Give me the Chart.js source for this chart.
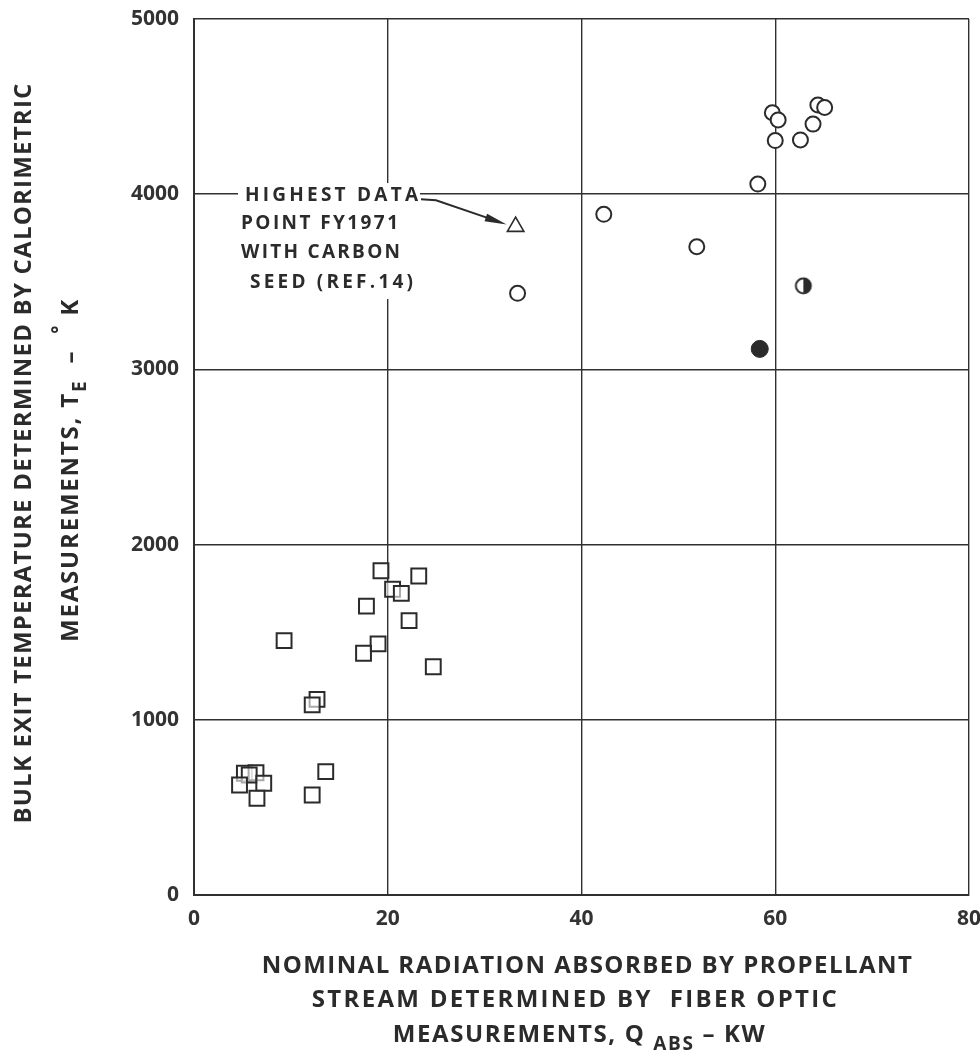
<!DOCTYPE html>
<html>
<head>
<meta charset="utf-8">
<script src="https://cdn.jsdelivr.net/npm/chart.js@4.4.1/dist/chart.umd.min.js"></script>
<style>
  html, body { margin: 0; padding: 0; background: #ffffff; }
  #wrap { width: 980px; height: 1053px; position: relative; }
</style>
</head>
<body>
<div id="wrap"><canvas id="c" width="980" height="1053"></canvas></div>
<script>
// ---- data: bulk exit temperature (K) vs absorbed radiation (kW) ----
// open squares
const squareX = [19.3, 23.2, 20.5, 21.4, 17.8, 22.2, 9.3, 19.0, 17.5, 24.7, 12.7, 12.2,
                 5.2, 6.4, 5.7, 4.7, 7.2, 6.5, 13.6, 12.2];
const squareY = [1851, 1821, 1745, 1722, 1649, 1566, 1452, 1433, 1380, 1303, 1117, 1085,
                 695, 698, 685, 628, 638, 552, 704, 571];
// open circles
const circleX = [59.7, 60.3, 60.0, 62.6, 63.9, 64.4, 65.1, 58.2, 42.3, 51.9, 33.4];
const circleY = [4465, 4424, 4306, 4310, 4400, 4509, 4495, 4058, 3885, 3700, 3434];
// filled circle
const filledX = [58.4];
const filledY = [3117];
// half-filled circle
const halfX = [62.9];
const halfY = [3477];
// triangle: highest data point FY1971 with carbon seed
const triX = [33.2];
const triY = [3815];

const xTicks = [0, 20, 40, 60, 80];
const yTicks = [0, 1000, 2000, 3000, 4000, 5000];

const xTitle = [
  [{ t: 'NOMINAL RADIATION ABSORBED BY PROPELLANT' }],
  [{ t: 'STREAM DETERMINED BY  FIBER OPTIC' }],
  [{ t: 'MEASUREMENTS, Q ' }, { t: 'ABS', sub: true }, { t: ' \u2013 KW' }]
];
const yTitle = [
  [{ t: 'BULK EXIT TEMPERATURE DETERMINED BY CALORIMETRIC' }],
  [{ t: 'MEASUREMENTS, T' }, { t: 'E', sub: true }, { t: '  \u2013  ' }, { t: '\u00B0', sup: true }, { t: ' K' }]
];
const noteLines = ['HIGHEST DATA', 'POINT FY1971', 'WITH CARBON', 'SEED (REF.14)'];

const INK = '#2b2b2b';
const FONT = "'Open Sans', 'DejaVu Sans', sans-serif";

function pts(xs, ys) { return xs.map((x, i) => ({ x: x, y: ys[i] })); }

// marker with right half filled
const halfDot = document.createElement('canvas');
halfDot.width = 22; halfDot.height = 22;
(function () {
  const g = halfDot.getContext('2d');
  g.fillStyle = INK;
  g.beginPath(); g.arc(11, 11, 8, -Math.PI / 2, Math.PI / 2); g.closePath(); g.fill();
  g.beginPath(); g.arc(11, 11, 7.5, 0, Math.PI * 2);
  g.lineWidth = 2; g.strokeStyle = INK; g.stroke();
})();

// draws one line of text segments centred at (cx, cy), spread to a given width
function drawLine(ctx, segs, cx, cy, size, target) {
  const subSize = Math.round(size * 0.78);
  const parts = segs.map(s => ({
    t: s.t,
    font: 'bold ' + ((s.sub || s.sup) ? subSize : size) + 'px ' + FONT,
    dy: s.sub ? size * 0.38 : (s.sup ? -size * 0.45 : 0)
  }));
  ctx.letterSpacing = '0px';
  let natural = 0, chars = 0;
  parts.forEach(p => { ctx.font = p.font; natural += ctx.measureText(p.t).width; chars += p.t.length; });
  const ls = Math.max(0, (target - natural) / Math.max(1, chars - 1));
  ctx.letterSpacing = ls + 'px';
  let total = 0;
  parts.forEach(p => { ctx.font = p.font; p.w = ctx.measureText(p.t).width; total += p.w; });
  let x = cx - total / 2;
  ctx.textAlign = 'left';
  ctx.textBaseline = 'middle';
  parts.forEach(p => { ctx.font = p.font; ctx.fillText(p.t, x, cy + p.dy); x += p.w; });
  ctx.letterSpacing = '0px';
}

function drawLeft(ctx, text, x, cy, size, target) {
  ctx.font = 'bold ' + size + 'px ' + FONT;
  ctx.letterSpacing = '0px';
  const natural = ctx.measureText(text).width;
  const ls = Math.max(0, (target - natural) / Math.max(1, text.length - 1));
  ctx.letterSpacing = ls + 'px';
  ctx.textAlign = 'left';
  ctx.textBaseline = 'middle';
  ctx.fillText(text, x, cy);
  ctx.letterSpacing = '0px';
}

const decor = {
  id: 'decor',
  beforeDatasetsDraw(chart) {
    // clear the grid behind the annotation text
    const ctx = chart.ctx, a = chart.chartArea;
    ctx.save();
    ctx.fillStyle = '#ffffff';
    ctx.fillRect(a.left + 44, a.top + 164, 182, 116);
    ctx.restore();
  },
  afterDraw(chart) {
    const ctx = chart.ctx, a = chart.chartArea;
    const xs = chart.scales.x, ys = chart.scales.y;
    ctx.save();
    ctx.fillStyle = INK;

    // x-axis title
    const cx = (a.left + a.right) / 2;
    drawLine(ctx, xTitle[0], cx + 6, a.bottom + 71, 24, 650);
    drawLine(ctx, xTitle[1], cx - 6, a.bottom + 105, 24, 525);
    drawLine(ctx, xTitle[2], cx - 2, a.bottom + 140, 24, 372);

    // y-axis title (rotated)
    const cy = (a.top + a.bottom) / 2;
    ctx.save();
    ctx.translate(24, cy - 4);
    ctx.rotate(-Math.PI / 2);
    drawLine(ctx, yTitle[0], 0, 0, 24, 740);
    ctx.restore();
    ctx.save();
    ctx.translate(71, cy + 13);
    ctx.rotate(-Math.PI / 2);
    drawLine(ctx, yTitle[1], 0, 0, 24, 342);
    ctx.restore();

    // annotation
    const y4000 = ys.getPixelForValue(4000);
    drawLeft(ctx, noteLines[0], a.left + 51, y4000 + 1, 19, 173);
    drawLeft(ctx, noteLines[1], a.left + 47, y4000 + 29, 19, 157);
    drawLeft(ctx, noteLines[2], a.left + 47, y4000 + 58, 19, 159);
    drawLeft(ctx, noteLines[3], a.left + 56, y4000 + 88, 19, 163);

    // arrow to the triangle point
    const px = xs.getPixelForValue(triX[0]), py = ys.getPixelForValue(triY[0]);
    const tipX = px - 9, tipY = py - 2;
    const sx = a.left + 227, sy = y4000 + 5;
    ctx.strokeStyle = INK; ctx.lineWidth = 2;
    ctx.beginPath();
    ctx.moveTo(sx, sy);
    ctx.lineTo(sx + 15, sy + 1);
    ctx.lineTo(tipX - 14, tipY - 5);
    ctx.stroke();
    const ang = Math.atan2(tipY - (sy + 1), tipX - (sx + 15));
    ctx.beginPath();
    ctx.moveTo(tipX, tipY);
    ctx.lineTo(tipX - 22 * Math.cos(ang) + 4 * Math.sin(ang), tipY - 22 * Math.sin(ang) - 4 * Math.cos(ang));
    ctx.lineTo(tipX - 22 * Math.cos(ang) - 4 * Math.sin(ang), tipY - 22 * Math.sin(ang) + 4 * Math.cos(ang));
    ctx.closePath();
    ctx.fill();
    ctx.restore();
  }
};

const tickFont = { family: FONT, size: 21, weight: 'bold' };

new Chart(document.getElementById('c'), {
  type: 'scatter',
  data: {
    datasets: [
      { data: pts(squareX, squareY), pointStyle: 'rect', pointRadius: 10.5,
        borderColor: INK, borderWidth: 2, backgroundColor: 'rgba(255,255,255,0.6)' },
      { data: pts(circleX, circleY), pointStyle: 'circle', pointRadius: 7.5,
        borderColor: INK, borderWidth: 2, backgroundColor: '#ffffff' },
      { data: pts(filledX, filledY), pointStyle: 'circle', pointRadius: 8.5,
        borderColor: INK, borderWidth: 1, backgroundColor: INK },
      { data: pts(halfX, halfY), pointStyle: halfDot },
      { data: pts(triX, triY), pointStyle: 'triangle', pointRadius: 9.5,
        borderColor: INK, borderWidth: 1.6, backgroundColor: '#ffffff' }
    ]
  },
  options: {
    responsive: false,
    animation: false,
    devicePixelRatio: 1,
    layout: { autoPadding: false, padding: 0 },
    plugins: { legend: { display: false }, tooltip: { enabled: false } },
    scales: {
      x: {
        type: 'linear', min: xTicks[0], max: xTicks[xTicks.length - 1],
        afterBuildTicks: s => { s.ticks = xTicks.map(v => ({ value: v })); },
        afterFit: s => { s.height = 158; s.paddingLeft = 0; s.paddingRight = 11; },
        ticks: { color: '#333333', font: tickFont, padding: 11, maxRotation: 0, callback: v => String(v) },
        grid: { color: '#303030', lineWidth: 1.4, drawTicks: false },
        border: { color: '#303030', width: 2 }
      },
      y: {
        type: 'linear', min: yTicks[0], max: yTicks[yTicks.length - 1],
        afterBuildTicks: s => { s.ticks = yTicks.map(v => ({ value: v })); },
        afterFit: s => { s.width = 194; s.paddingTop = 19; s.paddingBottom = 0; },
        ticks: { color: '#333333', font: tickFont, padding: 15, callback: v => String(v) },
        grid: { color: '#303030', lineWidth: 1.4, drawTicks: false },
        border: { color: '#303030', width: 2 }
      }
    }
  },
  plugins: [decor]
});
</script>
</body>
</html>
